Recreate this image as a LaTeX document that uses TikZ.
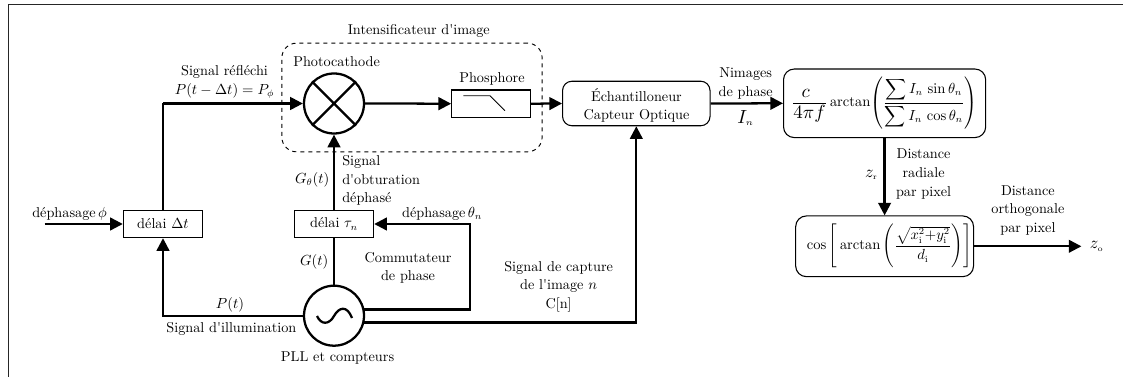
\documentclass[tikz,border=0pt]{standalone}
\usepackage{amsmath}
\usetikzlibrary{arrows.meta}
\tikzset{
  conn/.style={line width=1.7pt,-{Triangle[length=9.5pt,width=9.5pt]}},
  plain/.style={line width=1.7pt},
  sq/.style={draw,line width=0.8pt,minimum width=59.5pt,minimum height=20.5pt,inner sep=0pt,font=\fontsize{10.7}{13.9}\selectfont},
  rnd/.style={draw,line width=0.8pt,rounded corners=7pt,inner sep=0pt,font=\fontsize{10.7}{13.9}\selectfont},
  disc/.style={draw,circle,line width=1.7pt,minimum size=45pt,inner sep=0pt},
  lab/.style={align=center,inner sep=0pt,font=\fontsize{10.7}{13.9}\selectfont},
}
\newcommand{\ap}{\textquotesingle}
\begin{document}
\begin{tikzpicture}[x=0.75pt,y=-0.75pt]
\useasboundingbox (0,0) rectangle (1123,377);
\draw[line width=0.8pt,black!85] (1123,4.5) -- (8.5,4.5) -- (8.5,377);
% dashed box
\node[draw,dashed,line width=0.7pt,rounded corners=11pt,minimum width=195.2pt,minimum height=81.5pt,inner sep=0pt] (intens) at (412,97.5) {};
% blocks
\node[disc] (mix) at (334,103.5) {};
\draw[line width=1.7pt] (mix.45) -- (mix.225) (mix.135) -- (mix.315);
\node[draw,line width=0.8pt,minimum width=59pt,minimum height=20.5pt,inner sep=0pt] (phos) at (491,103.7) {};
\draw[line width=0.6pt] (463.3,95.7) -- (490,95.7) -- (505,110.7);
\node[rnd,minimum width=110.6pt,minimum height=33.4pt] (ech) at (636.3,103.5) {};
\node[lab] (echt) at (636.5,105.5) {Échantilloneur\\Capteur Optique};
\node[rnd,rounded corners=8pt,minimum width=151.6pt,minimum height=51.4pt] (form) at (884.6,103.3) {$\dfrac{\scalebox{1.3}{$c$}}{\scalebox{1.3}{$4\pi f$}}\arctan\!\left(\dfrac{\displaystyle\sum I_n\,\sin\theta_n}{\displaystyle\sum I_n\,\cos\theta_n}\right)$};
\node[rnd,rounded corners=8pt,minimum width=133.4pt,minimum height=45.5pt] (cosb) at (884.6,246.3) {\hspace{7pt}$\cos\Bigg[\arctan\Bigg(\dfrac{\sqrt{x_{\mathrm{i}}^2{+}y_{\mathrm{i}}^2}}{d_{\mathrm{i}}}\Bigg)\Bigg]$};
\node[sq] (d1) at (163,224) {délai $\Delta t$};
\node[sq] (d2) at (334,224) {délai $\tau_n$};
\node[disc] (osc) at (334,315.7) {};
\draw[line width=1.7pt] (317,316) .. controls (321,325) and (329,325) .. (334,316) .. controls (339,307) and (347,305) .. (352,318);
% free ends
\coordinate (inp) at (44.6,224);
\coordinate (outp) at (1081.4,246.3);
\coordinate (c1) at (163,103.5);
\coordinate (c2) at (163,315.7);
% connectors
\draw[conn] (inp) -- (d1.west);
\draw[plain] (d1.north) -- (c1);
\draw[conn] (c1) -- (mix.west);
\draw[conn] (osc.west) -- (c2) -- (d1.south);
\draw[plain] (osc.north) -- (d2.south);
\draw[conn] (d2.north) -- (mix.south);
\draw[conn] (mix.east) -- (phos.west);
\draw[conn] (phos.east) -- (ech.west);
\draw[conn] (ech.east) -- (form.west);
\draw[conn] (form.south) -- (form.south |- cosb.north);
\draw[conn] (cosb.east) -- (outp);
\draw[conn] (osc.east |- 0,309.5) ++(-1,0) -- (470,309.5) -- (470,224) -- (d2.east);
\draw[conn] (osc.east |- 0,322.5) ++(-1,0) -- (636.3,322.5) -- (ech.south);
% labels
\node[lab] (t1) at (418.8,31) {Intensificateur d\ap image};
\node[lab] (t2) at (336.6,62) {Photocathode};
\node[lab] (t3) at (492,79) {Phosphore};
\node[lab] (t4) at (224.5,82) {Signal réfléchi\\$P(t-\Delta t)=P_\phi$};
\node[lab,align=left,anchor=west] (t5) at (342,180.5) {Signal\\d\ap obturation\\déphasé};
\node[lab,anchor=east] (t6) at (329.5,179.5) {$G_\theta(t)$};
\node[lab,anchor=west] (t7) at (32,213.5) {déphasage$\,\phi$};
\node[lab,anchor=west] (t8) at (401.8,214) {déphasage$\,\theta_n$};
\node[lab,anchor=east] (t9) at (328.6,262) {$G(t)$};
\node[lab] (t10) at (408,268) {Commutateur\\de phase};
\node[lab] (t11) at (230,304.5) {$P(t)$};
\node[lab] (t12) at (231.4,329) {Signal d\ap illumination};
\node[lab] (t13) at (337.5,358) {PLL et compteurs};
\node[lab] (t14) at (558.6,286.5) {Signal de capture\\de l\ap image $n$\\C[n]\hspace{8pt}};
\node[lab] (t15) at (745.7,83.5) {Nimages\\de phase};
\node[lab] (t16) at (745.7,118) {\scalebox{1.3}{$I_{\scriptscriptstyle n}$}};
\node[lab,anchor=east] (t17) at (878,175) {\scalebox{1.15}{$z_{\scriptscriptstyle\mathrm{r}}$}};
\node[lab] (t18) at (923.6,174) {Distance\\radiale\\par pixel};
\node[lab] (t19) at (1027.9,210.5) {Distance\\orthogonale\\par pixel};
\node[lab,anchor=west] (t20) at (1089.6,246.5) {\scalebox{1.15}{$z_{\scriptscriptstyle\mathrm{o}}$}};
\end{tikzpicture}
\end{document}
